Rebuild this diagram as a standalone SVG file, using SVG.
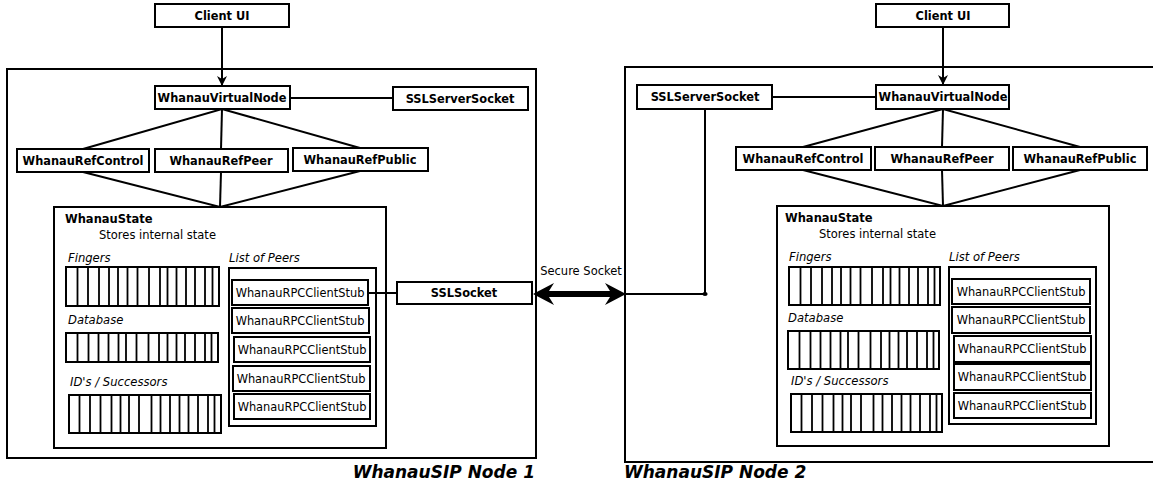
<svg xmlns="http://www.w3.org/2000/svg" width="1153" height="483" viewBox="0 0 1153 483">
  <style>
    .frame { fill: none; stroke: #000; stroke-width: 2; }
    .box { fill: #fff; stroke: #000; stroke-width: 2; }
    .bar { fill: #fff; stroke: #000; stroke-width: 2; }
    .div { fill: none; stroke: #000; stroke-width: 1.8; }
    .wire { fill: none; stroke: #000; stroke-width: 2; }
    .lbl { font-family: "DejaVu Sans", "Liberation Sans", sans-serif; font-size: 11.4px; font-weight: bold; text-anchor: middle; fill: #000; }
    .txt { font-family: "DejaVu Sans", "Liberation Sans", sans-serif; font-size: 11.5px; fill: #000; }
    .stub { font-family: "DejaVu Sans", "Liberation Sans", sans-serif; font-size: 11.4px; text-anchor: middle; fill: #000; }
    .ital { font-family: "DejaVu Sans", "Liberation Sans", sans-serif; font-size: 11.6px; font-style: italic; fill: #000; }
    .title { font-family: "DejaVu Sans", "Liberation Sans", sans-serif; font-size: 17px; font-weight: bold; font-style: italic; fill: #000; }
  </style>
  <defs>
    <marker id="head" viewBox="0 0 10 10" refX="10" refY="5" markerWidth="5" markerHeight="5" orient="auto" markerUnits="strokeWidth">
      <path d="M0 0 L10 5 L0 10 L3 5 Z" fill="#000"/>
    </marker>
  </defs>

  <rect width="1153" height="483" fill="#fff"/>

  <!-- node frames -->
  <g id="frame-node1">
    <rect class="frame" x="7" y="69" width="529" height="389"/>
    <text class="title" x="535" y="478" text-anchor="end">WhanauSIP Node 1</text>
  </g>
  <g id="frame-node2">
    <rect class="frame" x="625" y="67" width="545" height="395"/>
    <text class="title" x="624" y="478">WhanauSIP Node 2</text>
  </g>

  <!-- connectors -->
  <g id="connectors">
    <!-- node 1 -->
    <line class="wire" x1="222" y1="27" x2="222" y2="86" marker-end="url(#head)"/>
    <line class="wire" x1="290" y1="98" x2="393" y2="98"/>
    <polyline class="wire" points="83,149 222,109 360,148"/>
    <line class="wire" x1="222" y1="109" x2="221" y2="149"/>
    <polyline class="wire" points="83,172 220,207 360,171"/>
    <line class="wire" x1="221" y1="172" x2="220" y2="207"/>
    <line class="wire" x1="368" y1="293" x2="397" y2="293"/>
    <!-- node 2 -->
    <line class="wire" x1="943" y1="27" x2="943" y2="85" marker-end="url(#head)"/>
    <line class="wire" x1="772" y1="97" x2="876" y2="97"/>
    <polyline class="wire" points="803,147 943,109 1080,147"/>
    <line class="wire" x1="943" y1="109" x2="942" y2="147"/>
    <polyline class="wire" points="803,170 943,206 1080,170"/>
    <line class="wire" x1="942" y1="170" x2="943" y2="206"/>
    <polyline class="wire" points="705,109 705,294 625,294"/>
    <ellipse cx="705" cy="294" rx="2.6" ry="2" fill="#000"/>
    <!-- secure socket link -->
    <path d="M533 294 L554 283 L549 291 L610 291 L605 283 L626 294 L605 305 L610 297 L549 297 L554 305 Z" fill="#000"/>
    <text class="txt" x="581" y="275" text-anchor="middle">Secure Socket</text>
  </g>

  <!-- ===== Node 1 ===== -->
  <g id="client-ui-1"><rect class="box" x="155" y="4" width="134" height="23"/><text class="lbl" x="222" y="20">Client UI</text></g>
  <g id="virtual-node-1"><rect class="box" x="155" y="86" width="135" height="23"/><text class="lbl" x="222" y="102">WhanauVirtualNode</text></g>
  <g id="server-socket-1"><rect class="box" x="393" y="87" width="135" height="23"/><text class="lbl" x="460" y="103">SSLServerSocket</text></g>
  <g id="ref-control-1"><rect class="box" x="17" y="149" width="132" height="23"/><text class="lbl" x="83" y="165">WhanauRefControl</text></g>
  <g id="ref-peer-1"><rect class="box" x="155" y="149" width="133" height="23"/><text class="lbl" x="221" y="165">WhanauRefPeer</text></g>
  <g id="ref-public-1"><rect class="box" x="293" y="148" width="135" height="23"/><text class="lbl" x="360" y="164">WhanauRefPublic</text></g>
  <g id="ssl-socket-1"><rect class="box" x="397" y="282" width="135" height="22"/><text class="lbl" x="464" y="297">SSLSocket</text></g>

  <g id="state-1">
    <rect class="frame" x="54" y="207" width="332" height="241"/>
    <text class="txt" x="65" y="223" font-weight="bold">WhanauState</text>
    <text class="txt" x="99" y="239">Stores internal state</text>
    <text class="ital" x="68" y="262">Fingers</text>
    <text class="ital" x="68" y="324">Database</text>
    <text class="ital" x="70" y="386">ID's / Successors</text>
    <text class="ital" x="229" y="262">List of Peers</text>
    <!-- fingers table -->
    <rect class="bar" x="66" y="267" width="153" height="39"/>
    <path class="div" d="M77.5 267 v39 m10.5 -39 v39 m11 -39 v39 m10 -39 v39 m9 -39 v39 m9.5 -39 v39 m10 -39 v39 m11.5 -39 v39 m11 -39 v39 m7.5 -39 v39 m9 -39 v39 m9.5 -39 v39 m9 -39 v39 m10 -39 v39 m7.5 -39 v39"/>
    <!-- database table -->
    <rect class="bar" x="66" y="333" width="152" height="29"/>
    <path class="div" d="M77.5 333 v29 m11 -29 v29 m10 -29 v29 m10 -29 v29 m10 -29 v29 m7.5 -29 v29 m10.5 -29 v29 m12 -29 v29 m10.5 -29 v29 m8.5 -29 v29 m9 -29 v29 m8.5 -29 v29 m10 -29 v29 m10 -29 v29 m6.5 -29 v29"/>
    <!-- successors table -->
    <rect class="bar" x="69" y="395" width="152" height="38"/>
    <path class="div" d="M79.5 395 v38 m10.5 -38 v38 m10.5 -38 v38 m11 -38 v38 m9 -38 v38 m8.5 -38 v38 m10 -38 v38 m12.5 -38 v38 m9 -38 v38 m9.5 -38 v38 m9.5 -38 v38 m9 -38 v38 m9.5 -38 v38 m10 -38 v38 m6.5 -38 v38"/>
    <!-- peers list -->
    <rect class="frame" x="229" y="268" width="147" height="158"/>
  </g>
  <g id="stub-1-1"><rect class="box" x="232" y="280" width="136" height="25"/><text class="stub" x="300" y="297">WhanauRPCClientStub</text></g>
  <g id="stub-1-2"><rect class="box" x="232" y="308" width="137" height="25"/><text class="stub" x="300" y="325">WhanauRPCClientStub</text></g>
  <g id="stub-1-3"><rect class="box" x="234" y="337" width="136" height="25"/><text class="stub" x="302" y="354">WhanauRPCClientStub</text></g>
  <g id="stub-1-4"><rect class="box" x="233" y="366" width="137" height="25"/><text class="stub" x="301" y="383">WhanauRPCClientStub</text></g>
  <g id="stub-1-5"><rect class="box" x="234" y="394" width="136" height="25"/><text class="stub" x="302" y="411">WhanauRPCClientStub</text></g>

  <!-- ===== Node 2 ===== -->
  <g id="client-ui-2"><rect class="box" x="876" y="4" width="133" height="23"/><text class="lbl" x="943" y="20">Client UI</text></g>
  <g id="virtual-node-2"><rect class="box" x="876" y="85" width="133" height="24"/><text class="lbl" x="943" y="101">WhanauVirtualNode</text></g>
  <g id="server-socket-2"><rect class="box" x="637" y="85" width="135" height="24"/><text class="lbl" x="705" y="101">SSLServerSocket</text></g>
  <g id="ref-control-2"><rect class="box" x="736" y="147" width="135" height="23"/><text class="lbl" x="803" y="163">WhanauRefControl</text></g>
  <g id="ref-peer-2"><rect class="box" x="875" y="147" width="134" height="23"/><text class="lbl" x="942" y="163">WhanauRefPeer</text></g>
  <g id="ref-public-2"><rect class="box" x="1013" y="147" width="134" height="23"/><text class="lbl" x="1080" y="163">WhanauRefPublic</text></g>

  <g id="state-2">
    <rect class="frame" x="777" y="206" width="332" height="240"/>
    <text class="txt" x="785" y="222" font-weight="bold">WhanauState</text>
    <text class="txt" x="819" y="238">Stores internal state</text>
    <text class="ital" x="789" y="261">Fingers</text>
    <text class="ital" x="788" y="322">Database</text>
    <text class="ital" x="791" y="385">ID's / Successors</text>
    <text class="ital" x="949" y="261">List of Peers</text>
    <!-- fingers table -->
    <rect class="bar" x="789" y="267" width="151" height="38"/>
    <path class="div" d="M800.5 267 v38 m10.5 -38 v38 m11 -38 v38 m10 -38 v38 m9 -38 v38 m9.5 -38 v38 m10 -38 v38 m11.5 -38 v38 m11 -38 v38 m7.5 -38 v38 m9 -38 v38 m9.5 -38 v38 m9 -38 v38 m10 -38 v38 m6.5 -38 v38"/>
    <!-- database table -->
    <rect class="bar" x="788" y="331" width="151" height="38"/>
    <path class="div" d="M799.5 331 v38 m11 -38 v38 m10 -38 v38 m10 -38 v38 m10 -38 v38 m7.5 -38 v38 m10.5 -38 v38 m12 -38 v38 m10.5 -38 v38 m8.5 -38 v38 m9 -38 v38 m8.5 -38 v38 m10 -38 v38 m10 -38 v38 m6.5 -38 v38"/>
    <!-- successors table -->
    <rect class="bar" x="791" y="394" width="151" height="38"/>
    <path class="div" d="M801.5 394 v38 m10.5 -38 v38 m10.5 -38 v38 m11 -38 v38 m9 -38 v38 m8.5 -38 v38 m10 -38 v38 m12.5 -38 v38 m9 -38 v38 m9.5 -38 v38 m9.5 -38 v38 m9 -38 v38 m9.5 -38 v38 m10 -38 v38 m6.5 -38 v38"/>
    <!-- peers list -->
    <rect class="frame" x="949" y="267" width="147" height="157"/>
  </g>
  <g id="stub-2-1"><rect class="box" x="952" y="279" width="138" height="25"/><text class="stub" x="1021" y="296">WhanauRPCClientStub</text></g>
  <g id="stub-2-2"><rect class="box" x="952" y="307" width="138" height="26"/><text class="stub" x="1021" y="324">WhanauRPCClientStub</text></g>
  <g id="stub-2-3"><rect class="box" x="954" y="336" width="137" height="26"/><text class="stub" x="1022" y="353">WhanauRPCClientStub</text></g>
  <g id="stub-2-4"><rect class="box" x="954" y="364" width="137" height="26"/><text class="stub" x="1022" y="381">WhanauRPCClientStub</text></g>
  <g id="stub-2-5"><rect class="box" x="954" y="393" width="137" height="25"/><text class="stub" x="1022" y="410">WhanauRPCClientStub</text></g>
</svg>
